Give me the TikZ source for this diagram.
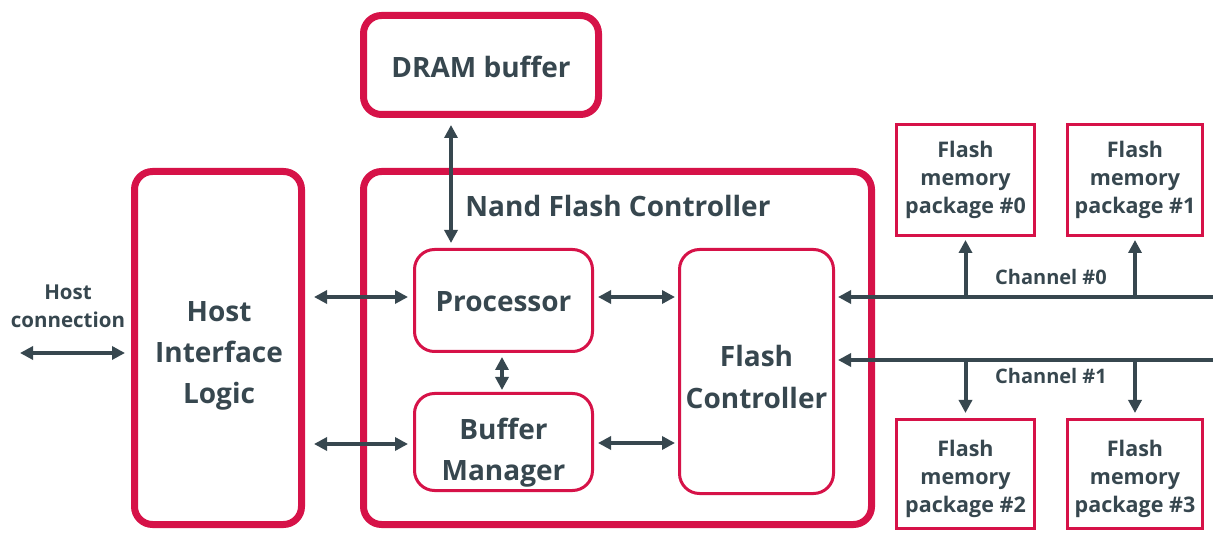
\documentclass[tikz,border=0pt]{standalone}
\usepackage{fontspec}
\setmainfont{Open Sans}
\usetikzlibrary{arrows.meta,calc}
\definecolor{BoxRed}{RGB}{214,18,72}
\definecolor{InkGray}{RGB}{55,71,79}
\tikzset{%
	% Style of the big blocks
	BigBlock/.style={rectangle,rounded corners=18,draw=BoxRed,line width=7,fill=white},
	% Style of the blocks inside the controller
	SmallBlock/.style={rectangle,rounded corners=20,draw=BoxRed,line width=3,fill=white},
	% Style of the flash packages
	Package/.style={rectangle,draw=BoxRed,line width=3,fill=white},
	% Style of the block names
	BlockName/.style={text=InkGray,align=center,inner sep=0,font=\fontsize{28}{41}\selectfont\bfseries},
	% Style of the package names
	PackageName/.style={text=InkGray,align=center,inner sep=0,font=\fontsize{21.5}{28}\selectfont\bfseries},
	% Style of the free labels
	Label/.style={text=InkGray,align=center,inner sep=0},
	% Style of the links
	Link/.style={draw=InkGray,line width=4,{Triangle[length=13,width=13]}-{Triangle[length=13,width=13]}},
	OneWay/.style={draw=InkGray,line width=4,-{Triangle[length=13,width=13]}},
}

\begin{document}
\begin{tikzpicture}[x=1pt,y=-1pt] % STYLES
\useasboundingbox (0,0) rectangle (1213,534);

%~~~~~~~~~~~~~~~~~~~~~~~~~~~~~~~~~~~~~~~~~~~~~~~~~~
% Set Blocks
%~~~~~~~~~~~~~~~~~~~~~~~~~~~~~~~~~~~~~~~~~~~~~~~~~~
\node[BigBlock, minimum width=235, minimum height=99] (DRAM) at (481, 65) {};
\node[BlockName] at (481, 67) {DRAM buffer};

\node[BigBlock, minimum width=508, minimum height=353] (NFC) at (617.5, 348) {};
\node[BlockName] at (618, 206) {Nand Flash Controller};

\node[BigBlock, minimum width=167, minimum height=353] (HIL) at (218, 348) {};
\node[BlockName] at (219, 356) {Host\\Interface\\Logic};

\node[SmallBlock, minimum width=178, minimum height=102] (Proc) at (503.5, 300.5) {};
\node[BlockName] at (503.5, 302) {Processor};

\node[SmallBlock, minimum width=178, minimum height=97] (BufMan) at (503.5, 442) {};
\node[BlockName] at (503.5, 452.5) {Buffer\\Manager};

\node[SmallBlock, minimum width=154, minimum height=244] (FC) at (756.5, 371.5) {};
\node[BlockName, font=\fontsize{28}{42}\selectfont\bfseries] at (756.5, 377) {Flash\\Controller};

\node[Package, minimum width=138, minimum height=111] (Pkg0) at (965.5, 180) {};
\node[PackageName] at (965.5, 180) {Flash\\memory\\package \#0};

\node[Package, minimum width=135, minimum height=111] (Pkg1) at (1135, 180) {};
\node[PackageName] at (1135, 180) {Flash\\memory\\package \#1};

\node[Package, minimum width=138, minimum height=109] (Pkg2) at (965.5, 474) {};
\node[PackageName] at (965.5, 479) {Flash\\memory\\package \#2};

\node[Package, minimum width=135, minimum height=109] (Pkg3) at (1135, 474) {};
\node[PackageName] at (1135, 479) {Flash\\memory\\package \#3};

%~~~~~~~~~~~~~~~~~~~~~~~~~~~~~~~~~~~~~~~~~~~~~~~~~~
% Set Labels and free ends
%~~~~~~~~~~~~~~~~~~~~~~~~~~~~~~~~~~~~~~~~~~~~~~~~~~
\node[Label, font=\fontsize{20.5}{28}\selectfont\bfseries] (HostName) at (68, 306) {Host\\connection};
\coordinate (HostEnd) at (20, 353);
\coordinate (Ch0End) at (1213, 297);
\coordinate (Ch1End) at (1213, 360);
\node[Label, font=\fontsize{20}{24}\selectfont\bfseries] (Ch0Name) at (1051, 277) {Channel \#0};
\node[Label, font=\fontsize{20}{24}\selectfont\bfseries] (Ch1Name) at (1051, 376) {Channel \#1};

%~~~~~~~~~~~~~~~~~~~~~~~~~~~~~~~~~~~~~~~~~~~~~~~~~~
% Set Links
%~~~~~~~~~~~~~~~~~~~~~~~~~~~~~~~~~~~~~~~~~~~~~~~~~~
%Link from host to Host Interface Logic
\draw[Link, shorten >=6] (HostEnd) -- (HostEnd -| HIL.west);

%Links from Host Interface Logic to Processor and Buffer Manager
\draw[Link, shorten <=9, shorten >=5] (HIL.east |- 0,297) -- (Proc.west |- 0,297);
\draw[Link, shorten <=9, shorten >=5] (HIL.east |- 0,444) -- (BufMan.west |- 0,444);

%Links from Processor and Buffer Manager to Flash Controller
\draw[Link, shorten <=4, shorten >=3] (Proc.east |- 0,297) -- (FC.west |- 0,297);
\draw[Link, shorten <=4, shorten >=3] (BufMan.east |- 0,443) -- (FC.west |- 0,443);

%Link from Processor to Buffer Manager
\draw[Link, shorten <=4, shorten >=2] (Proc.south -| 502,0) -- (BufMan.north -| 502,0);

%Link from DRAM buffer to Processor
\draw[Link, shorten <=7, shorten >=5] (DRAM.south -| 451,0) -- (Proc.north -| 451,0);

%Channel #0
\draw[OneWay, shorten >=3] (Ch0End) -- (Ch0End -| FC.east);
\draw[OneWay, shorten >=3] (Ch0End -| Pkg0) -- (Pkg0.south);
\draw[OneWay, shorten >=3] (Ch0End -| Pkg1) -- (Pkg1.south);

%Channel #1
\draw[OneWay, shorten >=3] (Ch1End) -- (Ch1End -| FC.east);
\draw[OneWay, shorten >=5] (Ch1End -| Pkg2) -- (Pkg2.north);
\draw[OneWay, shorten >=5] (Ch1End -| Pkg3) -- (Pkg3.north);

\end{tikzpicture}
\end{document}
